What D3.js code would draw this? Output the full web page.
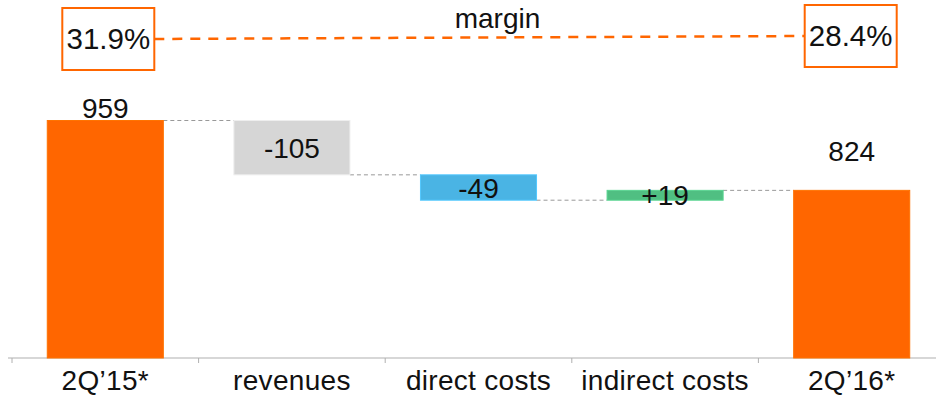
<!DOCTYPE html>
<html>
<head>
<meta charset="utf-8">
<script src="https://cdn.jsdelivr.net/npm/d3@7"></script>
<style>
  html, body { margin: 0; padding: 0; background: #fff; }
  svg { display: block; font-family: "Liberation Sans", Arial, Helvetica, sans-serif; }
</style>
</head>
<body>
<svg id="chart" width="936" height="396"></svg>
<script>
// ---- data ----
const categories = ["2Q\u201915*", "revenues", "direct costs", "indirect costs", "2Q\u201916*"];
const kinds = ["total", "delta", "delta", "delta", "total"];
const values = [959, -105, -49, 19, 824];
const valueLabels = ["959", "-105", "-49", "+19", "824"];
const barColors = ["#ff6600", "#d6d6d6", "#4ab4e4", "#50bf82", "#ff6600"];
const marginLabels = ["31.9%", "28.4%"];
const marginTitle = "margin";

// ---- build waterfall steps ----
let running = 0;
const steps = categories.map((c, i) => {
  let start, end;
  if (kinds[i] === "total") { start = 500; end = values[i]; running = values[i]; }
  else { start = running; end = running + values[i]; running = end; }
  return { cat: c, start, end, label: valueLabels[i], color: barColors[i], kind: kinds[i], i };
});

const svg = d3.select("#chart");
const x = d3.scaleBand().domain(categories).range([12, 945]).paddingInner(0.378).paddingOuter(0.189);
const y = d3.scaleLinear().domain([500, 1000]).range([358, 99.3]);

// axis
const axisG = svg.append("g").attr("transform", "translate(0,358)");
axisG.append("line").attr("x1", 8).attr("x2", 936).attr("y1", 0).attr("y2", 0)
  .attr("stroke", "#b0b0b0").attr("stroke-width", 1.2);
const step = x.step();
categories.forEach((c) => {
  const bx = x(c) - x.paddingOuter() * step;
  axisG.append("line").attr("x1", bx).attr("x2", bx).attr("y1", 0).attr("y2", 5)
    .attr("stroke", "#b0b0b0").attr("stroke-width", 1);
});
axisG.selectAll("text.cat").data(categories).join("text")
  .attr("class", "cat")
  .attr("x", d => x(d) + x.bandwidth() / 2)
  .attr("y", 32)
  .attr("text-anchor", "middle")
  .attr("font-size", 28)
  .attr("letter-spacing", 0.3)
  .attr("fill", "#111")
  .text(d => d);

// connectors
for (let i = 0; i < steps.length - 1; i++) {
  const lv = steps[i].end;
  svg.append("line")
    .attr("x1", x(steps[i].cat) + x.bandwidth())
    .attr("x2", x(steps[i + 1].cat))
    .attr("y1", y(lv)).attr("y2", y(lv))
    .attr("stroke", "#999").attr("stroke-width", 1)
    .attr("stroke-dasharray", "4,3");
}

// bars
svg.selectAll("rect.bar").data(steps).join("rect")
  .attr("class", "bar")
  .attr("x", d => x(d.cat))
  .attr("width", x.bandwidth())
  .attr("y", d => y(Math.max(d.start, d.end)))
  .attr("height", d => Math.abs(y(d.start) - y(d.end)))
  .attr("fill", d => d.color)
  .attr("stroke", d => d3.color(d.color).brighter(0.3))
  .attr("stroke-width", 1);

// value labels
svg.selectAll("text.val").data(steps).join("text")
  .attr("class", "val")
  .attr("x", d => x(d.cat) + x.bandwidth() / 2)
  .attr("y", d => {
    if (d.kind === "total") return d.i === 0 ? y(d.end) - 3 : y(d.end) - 29;
    return (y(d.start) + y(d.end)) / 2 + 10;
  })
  .attr("text-anchor", "middle")
  .attr("font-size", 28)
  .attr("fill", "#111")
  .text(d => d.label);

// margin boxes and line
const totals = steps.filter(d => d.kind === "total");
const boxW = 92, boxH = 62;
const boxYs = [8, 5];
const boxes = totals.map((d, k) => ({
  cx: x(d.cat) + x.bandwidth() / 2 + (k === 0 ? 3 : -1),
  y: boxYs[k], label: marginLabels[k]
}));
svg.append("line")
  .attr("x1", boxes[0].cx + boxW / 2).attr("y1", boxes[0].y + boxH / 2)
  .attr("x2", boxes[1].cx - boxW / 2).attr("y2", boxes[1].y + boxH / 2)
  .attr("stroke", "#ff6600").attr("stroke-width", 2.5)
  .attr("stroke-dasharray", "10,8");
svg.selectAll("rect.mbox").data(boxes).join("rect")
  .attr("class", "mbox")
  .attr("x", d => d.cx - boxW / 2).attr("y", d => d.y)
  .attr("width", boxW).attr("height", boxH)
  .attr("fill", "#fff").attr("stroke", "#ff6600").attr("stroke-width", 2);
svg.selectAll("text.mlab").data(boxes).join("text")
  .attr("class", "mlab")
  .attr("x", d => d.cx).attr("y", d => d.y + boxH / 2 + 10)
  .attr("text-anchor", "middle")
  .attr("font-size", 29.5)
  .attr("fill", "#111")
  .text(d => d.label);
svg.append("text")
  .attr("x", (boxes[0].cx + boxes[1].cx) / 2 + 18).attr("y", 28)
  .attr("text-anchor", "middle")
  .attr("font-size", 28)
  .attr("fill", "#111")
  .text(marginTitle);
</script>
</body>
</html>
